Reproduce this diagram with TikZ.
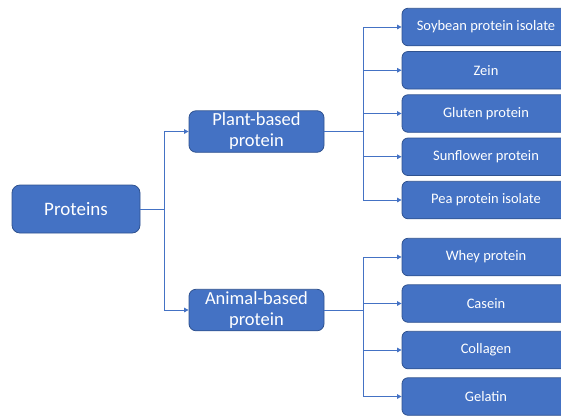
\documentclass[tikz,border=0pt]{standalone}
\usepackage{fontspec}
\setmainfont{Carlito}
\usetikzlibrary{arrows.meta, positioning}
\definecolor{boxblue}{HTML}{4472C4}
\definecolor{edgeblue}{HTML}{2F528F}

\begin{document}
\begin{tikzpicture}[x=1pt, y=-1pt,
    rootbox/.style={rectangle, draw=edgeblue, fill=boxblue, text=white, line width=0.8pt, rounded corners=8pt, minimum width=128pt, minimum height=48pt, inner sep=0pt, font=\fontsize{19}{22}\selectfont, align=center},
    groupbox/.style={rectangle, draw=edgeblue, fill=boxblue, text=white, line width=0.8pt, rounded corners=7pt, minimum width=135pt, minimum height=41.5pt, inner sep=0pt, font=\fontsize{18.5}{21}\selectfont, align=center},
    itembox/.style={rectangle, draw=edgeblue, fill=boxblue, text=white, line width=0.8pt, rounded corners=6pt, minimum width=168pt, minimum height=37.5pt, inner sep=0pt, font=\fontsize{14.5}{17}\selectfont, align=center},
    link/.style={draw=boxblue, line width=0.9pt, -{Triangle[length=4.5pt, width=4.5pt]}}
]
    \clip (0,0) rectangle (561,416);

    \node[rootbox] (proteins) at (76,209) {Proteins};
    \node[groupbox] (plant) at (256.5,131.5) {Plant-based\\ protein};
    \node[groupbox] (animal) at (256.5,310) {Animal-based\\ protein};

    % plant-based sources
    \node[itembox] (soy) at (486,27) {Soybean protein isolate};
    \node[itembox, below=4.95pt of soy] (zein) {Zein};
    \node[itembox, below=4.95pt of zein] (gluten) {Gluten protein};
    \node[itembox, below=4.95pt of gluten] (sunflower) {Sunflower protein};
    \node[itembox, below=4.95pt of sunflower] (pea) {Pea protein isolate};

    % animal-based sources
    \node[itembox] (whey) at (486,257) {Whey protein};
    \node[itembox, below=8.2pt of whey] (casein) {Casein};
    \node[itembox, below=8.2pt of casein] (collagen) {Collagen};
    \node[itembox, below=8.2pt of collagen] (gelatin) {Gelatin};

    \draw[link] (proteins.east) -- ++(24,0) |- (plant.west);
    \draw[link] (proteins.east) -- ++(24,0) |- (animal.west);

    \draw[link] (plant.east) -- ++(39,0) |- (soy.west);
    \draw[link] (plant.east) -- ++(39,0) |- (zein.west);
    \draw[link] (plant.east) -- ++(39,0) |- (gluten.west);
    \draw[link] (plant.east) -- ++(39,0) |- (sunflower.west);
    \draw[link] (plant.east) -- ++(39,0) |- (pea.west);

    \draw[link] (animal.east) -- ++(39,0) |- (whey.west);
    \draw[link] (animal.east) -- ++(39,0) |- (casein.west);
    \draw[link] (animal.east) -- ++(39,0) |- (collagen.west);
    \draw[link] (animal.east) -- ++(39,0) |- (gelatin.west);
\end{tikzpicture}
\end{document}
